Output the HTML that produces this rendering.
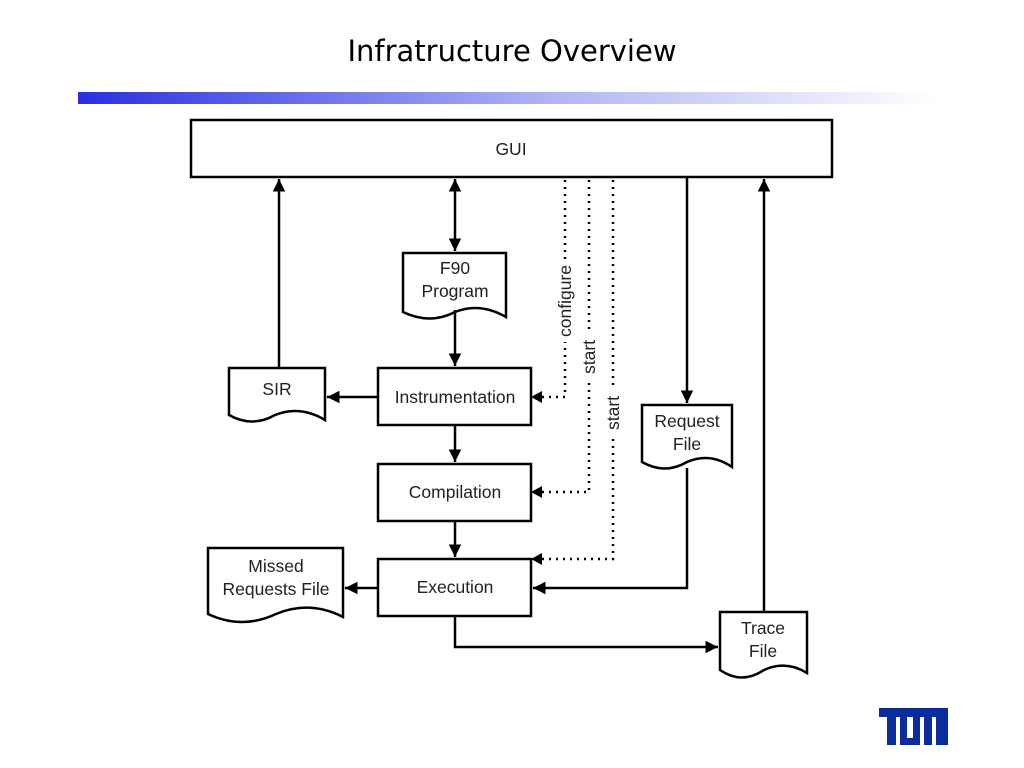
<!DOCTYPE html>
<html><head><meta charset="utf-8"><style>
body{margin:0;background:#fff;width:1024px;height:768px;overflow:hidden;position:relative}
.t{position:absolute;left:0;width:1024px;top:34px;text-align:center;font-family:"DejaVu Sans","Liberation Sans",sans-serif;font-size:29px;color:#000}
.bar{position:absolute;left:78px;top:92px;width:860px;height:12px;background:linear-gradient(90deg,#2a2ee0 0%,#5a60e8 20%,#b0b4f2 55%,#fff 100%)}
svg{position:absolute;left:0;top:0}
text{font-family:"Liberation Sans",sans-serif;font-size:17.5px;fill:#222}
</style></head><body>
<div class="t">Infratructure Overview</div>
<div class="bar"></div>
<svg width="1024" height="768" viewBox="0 0 1024 768">
<defs><marker id="a" viewBox="0 0 10 10" refX="10" refY="5" markerWidth="5" markerHeight="5" orient="auto-start-reverse"><path d="M0 0L10 5L0 10Z" fill="#000"/></marker></defs>
<g fill="#fff" stroke="#000" stroke-width="2.5">
<rect x="191" y="120" width="641" height="57"/>
<rect x="378" y="368" width="153" height="57"/>
<rect x="378" y="464" width="153" height="57"/>
<rect x="378" y="559" width="153" height="57"/>
<path d="M403 253H506V317Q480 302 455 312Q430 325 403 312Z"/>
<path d="M229 368H325V420Q300 405 275 415Q252 428 229 415Z"/>
<path d="M642 405H732V467Q710 452 687 462Q665 475 642 462Z"/>
<path d="M208 548H343V617Q310 600 276 614Q242 630 208 614Z"/>
<path d="M720 612H807V673Q786 660 764 670Q742 685 720 670Z"/>
</g>
<g stroke="#000" stroke-width="2.5" fill="none">
<line x1="279" y1="368" x2="279" y2="179" marker-end="url(#a)"/>
<line x1="455" y1="251" x2="455" y2="179" marker-start="url(#a)" marker-end="url(#a)"/>
<line x1="455" y1="310" x2="455" y2="366" marker-end="url(#a)"/>
<line x1="378" y1="397" x2="327" y2="397" marker-end="url(#a)"/>
<line x1="455" y1="425" x2="455" y2="462" marker-end="url(#a)"/>
<line x1="455" y1="521" x2="455" y2="557" marker-end="url(#a)"/>
<line x1="378" y1="588" x2="345" y2="588" marker-end="url(#a)"/>
<line x1="687" y1="177" x2="687" y2="403" marker-end="url(#a)"/>
<polyline points="687,468 687,588 533,588" marker-end="url(#a)"/>
<line x1="764" y1="612" x2="764" y2="179" marker-end="url(#a)"/>
<polyline points="455,616 455,647 718,647" marker-end="url(#a)"/>
</g>
<g stroke="#000" stroke-width="2.5" fill="none" stroke-dasharray="2 5">
<polyline points="565,180 565,397 540,397"/>
<polyline points="589,180 589,492 540,492"/>
<polyline points="613,180 613,559 540,559"/>
</g>
<g fill="#000"><path d="M531 397l11-6v12z"/><path d="M531 492l11-6v12z"/><path d="M531 559l11-6v12z"/></g>
<g fill="#fff"><rect x="557" y="260" width="16" height="82"/><rect x="581" y="334" width="16" height="46"/><rect x="605" y="390" width="16" height="46"/></g>
<text transform="translate(571 301) rotate(-90)" text-anchor="middle">configure</text>
<text transform="translate(595 357) rotate(-90)" text-anchor="middle">start</text>
<text transform="translate(619 413) rotate(-90)" text-anchor="middle">start</text>
<text x="511" y="155" text-anchor="middle">GUI</text>
<text x="455" y="274" text-anchor="middle">F90</text>
<text x="455" y="297" text-anchor="middle">Program</text>
<text x="277" y="395" text-anchor="middle">SIR</text>
<text x="455" y="403" text-anchor="middle">Instrumentation</text>
<text x="455" y="498" text-anchor="middle">Compilation</text>
<text x="455" y="593" text-anchor="middle">Execution</text>
<text x="687" y="427" text-anchor="middle">Request</text>
<text x="687" y="450" text-anchor="middle">File</text>
<text x="276" y="572" text-anchor="middle">Missed</text>
<text x="276" y="595" text-anchor="middle">Requests File</text>
<text x="763" y="634" text-anchor="middle">Trace</text>
<text x="763" y="657" text-anchor="middle">File</text>
<rect x="879" y="708" width="69" height="37" fill="#0a2c9c"/>
<g fill="#fff">
<rect x="879" y="717" width="8" height="28"/>
<rect x="896" y="717" width="4" height="28"/>
<rect x="907" y="717" width="6" height="21"/>
<rect x="920" y="717" width="4" height="28"/>
<rect x="932" y="717" width="4" height="28"/>
</g>
</svg>
</body></html>
